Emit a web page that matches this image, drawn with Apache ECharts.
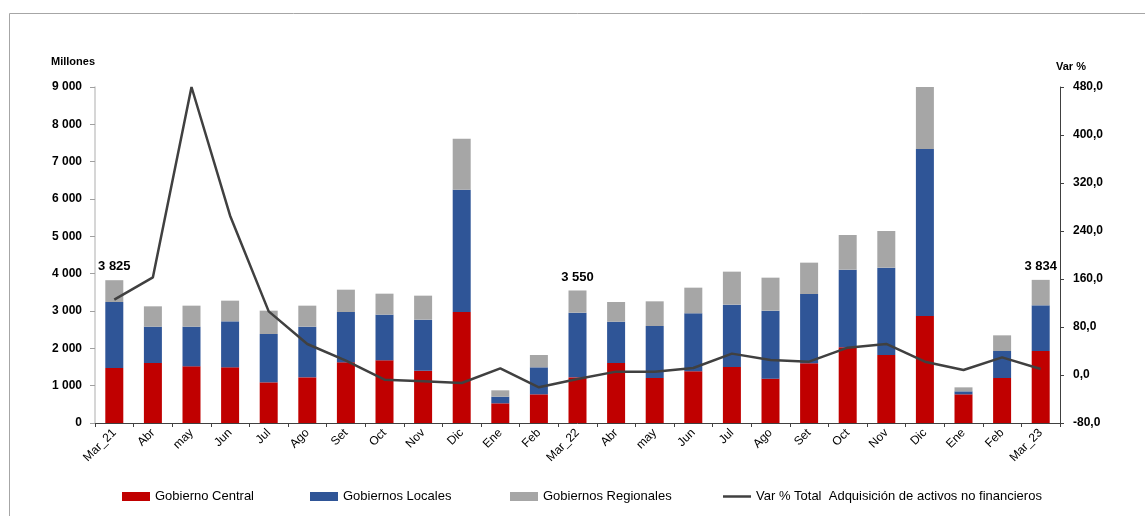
<!DOCTYPE html>
<html>
<head>
<meta charset="utf-8">
<script src="https://cdn.jsdelivr.net/npm/echarts@6/dist/echarts.min.js"></script>
<style>
html,body{margin:0;padding:0;background:#fff;}
#c{width:1145px;height:516px;}
</style>
</head>
<body>
<div id="c"></div>
<script>
const categories = ["Mar_21","Abr","may","Jun","Jul","Ago","Set","Oct","Nov","Dic","Ene","Feb","Mar_22","Abr","may","Jun","Jul","Ago","Set","Oct","Nov","Dic","Ene","Feb","Mar_23"];
const gobiernoCentral = [1473,1607,1518,1491,1089,1223,1625,1679,1402,2973,527,768,1223,1607,1205,1384,1500,1188,1598,2027,1821,2866,768,1205,1929];
const gobiernosLocales = [1768,973,1062,1232,1295,1357,1348,1223,1366,3277,178,723,1732,1107,1393,1554,1670,1821,1857,2080,2340,4473,80,724,1223];
const gobiernosRegionales = [584,545,563,554,625,563,598,562,643,1366,170,330,595,527,661,687,884,884,840,929,982,1661,107,419,682];
const varTotal = [125.5,162.8,480,265.5,106,51.7,24,-7.8,-10.5,-13.3,11,-20.5,-6.7,5.6,5.6,11.7,35.6,25,22.2,45.6,51.7,22.2,8.3,29.4,10];
const labeledIdx = [0,12,24];
const leftTicks = {min:0,max:9000,interval:1000};
const rightTicks = {min:-80,max:480,interval:80};

function fmtThousands(v){
  return String(Math.round(v)).replace(/\B(?=(\d{3})+(?!\d))/g,' ');
}
const totals = categories.map((_,i)=>gobiernoCentral[i]+gobiernosLocales[i]+gobiernosRegionales[i]);

const chart = echarts.init(document.getElementById('c'));
const FONT = "'Liberation Sans', Arial, sans-serif";
const legendText = {fontFamily: FONT, fontSize: 13, color: '#000'};

chart.setOption({
  animation: false,
  backgroundColor: '#fff',
  grid: {left: 95, right: 85, top: 87, bottom: 93, containLabel: false},
  graphic: [
    {type:'line', shape:{x1:9.5,y1:13.5,x2:1145,y2:13.5}, style:{stroke:'#a6a6a6', lineWidth:1}},
    {type:'line', shape:{x1:9.5,y1:13.5,x2:9.5,y2:516}, style:{stroke:'#a6a6a6', lineWidth:1}}
  ],
  legend: [
    {data:['Gobierno Central'], left:117, top:485, itemWidth:28, itemHeight:9, textStyle:legendText, icon:'rect'},
    {data:['Gobiernos Locales'], left:305, top:485, itemWidth:28, itemHeight:9, textStyle:legendText, icon:'rect'},
    {data:['Gobiernos Regionales'], left:505, top:485, itemWidth:28, itemHeight:9, textStyle:legendText, icon:'rect'},
    {data:['Var % Total  Adquisición de activos no financieros'], left:718, top:485, itemWidth:28, itemHeight:9,
      textStyle:legendText, icon:'path://M0,3.5 L28,3.5 L28,6 L0,6 Z', itemStyle:{color:'#404040'}}
  ],
  xAxis: {
    type: 'category',
    data: categories,
    boundaryGap: true,
    axisLine: {lineStyle: {color: '#404040', width: 1}},
    axisTick: {show: true, length: 4, alignWithLabel: false, lineStyle: {color: '#404040'}},
    axisLabel: {rotate: 45, interval: 0, margin: 8, fontFamily: FONT, fontSize: 12, color: '#000'},
    splitLine: {show: false}
  },
  yAxis: [
    {
      type: 'value', min: leftTicks.min, max: leftTicks.max, interval: leftTicks.interval,
      name: 'Millones', nameLocation: 'end', nameGap: 25,
      nameTextStyle: {fontFamily: FONT, fontSize: 11, fontWeight: 'bold', color: '#000', align: 'right', verticalAlign: 'middle'},
      axisLine: {show: true, lineStyle: {color: '#c8c8c8', width: 1.5}},
      axisTick: {show: true, length: 5, lineStyle: {color: '#a0a0a0'}},
      axisLabel: {margin: 13, fontFamily: FONT, fontSize: 12, fontWeight: 'bold', color: '#000', formatter: v => fmtThousands(v)},
      splitLine: {show: false}
    },
    {
      type: 'value', min: rightTicks.min, max: rightTicks.max, interval: rightTicks.interval,
      position: 'right',
      name: 'Var %', nameLocation: 'end', nameGap: 20,
      nameTextStyle: {fontFamily: FONT, fontSize: 11, fontWeight: 'bold', color: '#000', align: 'left', verticalAlign: 'middle', padding:[0,0,0,-4]},
      axisLine: {show: true, lineStyle: {color: '#404040', width: 1}},
      axisTick: {show: true, length: 4, lineStyle: {color: '#404040'}},
      axisLabel: {margin: 13, fontFamily: FONT, fontSize: 12, fontWeight: 'bold', color: '#000', formatter: v => v.toFixed(1).replace('.', ',')},
      splitLine: {show: false}
    }
  ],
  series: [
    {name:'Gobierno Central', type:'bar', stack:'t', barWidth:18, data: gobiernoCentral, itemStyle:{color:'#C00000'}},
    {name:'Gobiernos Locales', type:'bar', stack:'t', barWidth:18, data: gobiernosLocales, itemStyle:{color:'#2F5597'}},
    {name:'Gobiernos Regionales', type:'bar', stack:'t', barWidth:18, itemStyle:{color:'#A6A6A6'},
      data: gobiernosRegionales.map((v,i)=> labeledIdx.includes(i) ? {value:v, label:{show:true}} : v),
      label:{show:false, position:'top', distance:7, fontFamily: FONT, fontSize:13, fontWeight:'bold', color:'#000',
        formatter: p => fmtThousands(totals[p.dataIndex])}
    },
    {name:'Var % Total  Adquisición de activos no financieros', type:'line', yAxisIndex:1, data: varTotal,
      symbol:'none', showSymbol:false, lineStyle:{color:'#404040', width:2.5}, itemStyle:{color:'#404040'}, z:5}
  ]
});
</script>
</body>
</html>
